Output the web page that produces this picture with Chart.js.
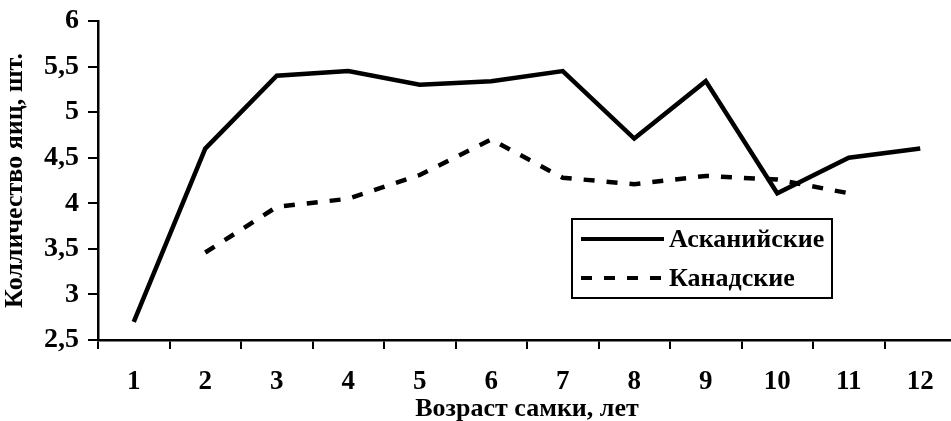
<!DOCTYPE html>
<html>
<head>
<meta charset="utf-8">
<script src="https://cdn.jsdelivr.net/npm/chart.js@4/dist/chart.umd.min.js"></script>
<style>
  html, body { margin: 0; padding: 0; background: #fff; overflow: hidden; }
  #wrap { width: 951px; height: 421px; overflow: hidden; }
  #box { width: 960px; height: 421px; }
</style>
</head>
<body>
<div id="wrap"><div id="box"><canvas id="eggChart"></canvas></div></div>
<script>
// Возраст самки, лет
const ages = ['1', '2', '3', '4', '5', '6', '7', '8', '9', '10', '11', '12'];
// Асканийские
const askaniyskie = [2.7, 4.6, 5.4, 5.45, 5.3, 5.34, 5.45, 4.71, 5.34, 4.11, 4.5, 4.6];
// Канадские
const kanadskie = [null, 3.46, 3.96, 4.05, 4.31, 4.7, 4.28, 4.21, 4.3, 4.26, 4.11, null];
const yTicks = [2.5, 3, 3.5, 4, 4.5, 5, 5.5, 6];

const FONT = '"Liberation Serif", "Times New Roman", serif';

// legend drawn inside the plot as a framed box
const boxLegend = {
  id: 'boxLegend',
  afterDraw(chart) {
    const ctx = chart.ctx;
    const x = 572, y = 219, w = 260, h = 79;
    ctx.save();
    ctx.fillStyle = '#fff';
    ctx.fillRect(x, y, w, h);
    ctx.strokeStyle = '#000';
    ctx.lineWidth = 2;
    ctx.strokeRect(x, y, w, h);
    ctx.font = 'bold 26px ' + FONT;
    ctx.textBaseline = 'middle';
    ctx.fillStyle = '#000';
    chart.data.datasets.forEach((ds, i) => {
      const ly = y + 20 + i * 39;
      ctx.beginPath();
      ctx.lineWidth = 4;
      ctx.setLineDash(ds.borderDash || []);
      ctx.moveTo(x + 9, ly);
      ctx.lineTo(x + 92, ly);
      ctx.stroke();
      ctx.setLineDash([]);
      ctx.fillText(ds.label, x + 97, ly + 1);
    });
    ctx.restore();
  }
};

new Chart(document.getElementById('eggChart'), {
  type: 'line',
  data: {
    labels: ages,
    datasets: [
      {
        label: 'Асканийские',
        data: askaniyskie,
        borderColor: '#000',
        borderWidth: 4.5,
        pointRadius: 0,
        tension: 0
      },
      {
        label: 'Канадские',
        data: kanadskie,
        borderColor: '#000',
        borderWidth: 4.5,
        borderDash: [11, 12],
        pointRadius: 0,
        tension: 0
      }
    ]
  },
  options: {
    responsive: true,
    maintainAspectRatio: false,
    animation: false,
    layout: { padding: { top: 21, right: 4, left: 0, bottom: 0 } },
    plugins: { legend: { display: false }, tooltip: { enabled: false } },
    scales: {
      x: {
        type: 'category',
        offset: true,
        grid: { offset: true, drawOnChartArea: false, drawTicks: true, tickLength: 9, color: '#000', lineWidth: 2 },
        border: { color: '#000', width: 2.5 },
        ticks: { color: '#000', padding: 17, font: { family: FONT, size: 27, weight: 'bold' }, maxRotation: 0, autoSkip: false },
        title: { display: true, text: 'Возраст самки, лет', color: '#000', padding: { top: 0, bottom: -4 }, font: { family: FONT, size: 26, weight: 'bold' } },
        afterFit: (s) => { s.height = 81; s.paddingLeft = 0; s.paddingRight = 0; }
      },
      y: {
        min: 2.5,
        max: 6,
        afterBuildTicks: (s) => { s.ticks = yTicks.map(v => ({ value: v })); },
        grid: { drawOnChartArea: false, drawTicks: true, tickLength: 10, color: '#000', lineWidth: 2 },
        border: { color: '#000', width: 2.5 },
        ticks: { color: '#000', padding: 9, font: { family: FONT, size: 28, weight: 'bold' }, callback: (v) => String(v).replace('.', ',') },
        title: { display: true, text: 'Колличество яиц, шт.', color: '#000', padding: { top: 0, bottom: 0 }, font: { family: FONT, size: 26, weight: 'bold' } },
        afterFit: (s) => { s.width = 98; s.paddingTop = 0; s.paddingBottom = 0; }
      }
    }
  },
  plugins: [boxLegend]
});
</script>
</body>
</html>
